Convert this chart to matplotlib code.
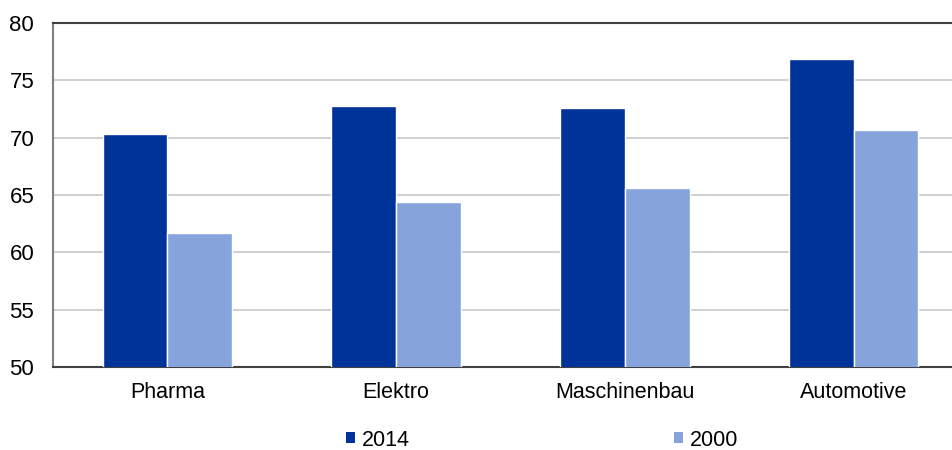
import matplotlib
matplotlib.use("Agg")
import matplotlib.pyplot as plt
import numpy as np
from matplotlib.patches import Patch

categories = ["Pharma", "Elektro", "Maschinenbau", "Automotive"]
values_2014 = [70.3, 72.75, 72.55, 76.9]
values_2000 = [61.65, 64.4, 65.65, 70.7]
series_labels = ["2014", "2000"]
y_ticks = [50, 55, 60, 65, 70, 75, 80]

c2014 = "#003399"
c2000 = "#86A3DB"

plt.rcParams['font.family'] = ['Liberation Sans', 'DejaVu Sans']

fig = plt.figure(figsize=(9.53, 4.5), dpi=100)
ax = fig.add_axes([53/953, 1-367/450, (968-53)/953, (367-23)/450])

x = np.arange(len(categories))
w = 0.283
ax.bar(x - w/2, values_2014, width=w, color=c2014, edgecolor="white", linewidth=1, zorder=3)
ax.bar(x + w/2, values_2000, width=w, color=c2000, edgecolor="white", linewidth=1, zorder=3)

ax.set_xlim(-0.5, len(categories) - 0.5)
ax.set_ylim(50, 80)
ax.set_yticks(y_ticks)
ax.set_yticklabels([str(v) for v in y_ticks])
ax.set_xticks(x)
ax.set_xticklabels(categories)
ax.tick_params(axis='y', length=0, pad=13.5, labelsize=16)
ax.tick_params(axis='x', length=0, pad=11, labelsize=15.5)

ax.grid(axis='y', color="#c8c8c8", linewidth=1.2, zorder=0)
ax.set_axisbelow(True)
ax.spines['right'].set_visible(False)
ax.spines['top'].set_color("#404040")
ax.spines['top'].set_linewidth(1.5)
ax.spines['left'].set_color("#808080")
ax.spines['left'].set_linewidth(1.5)
ax.spines['bottom'].set_color("#404040")
ax.spines['bottom'].set_linewidth(1.5)

handles = [Patch(facecolor=c2014, edgecolor="none"), Patch(facecolor=c2000, edgecolor="none")]
fig.legend(handles, series_labels, loc='center', bbox_to_anchor=(542/953, 1-440/450),
           ncol=2, frameon=False, fontsize=15.5, handlelength=0.42, handleheight=0.42,
           handletextpad=0.3, columnspacing=12.3)

fig.savefig("out.png", dpi=100)
